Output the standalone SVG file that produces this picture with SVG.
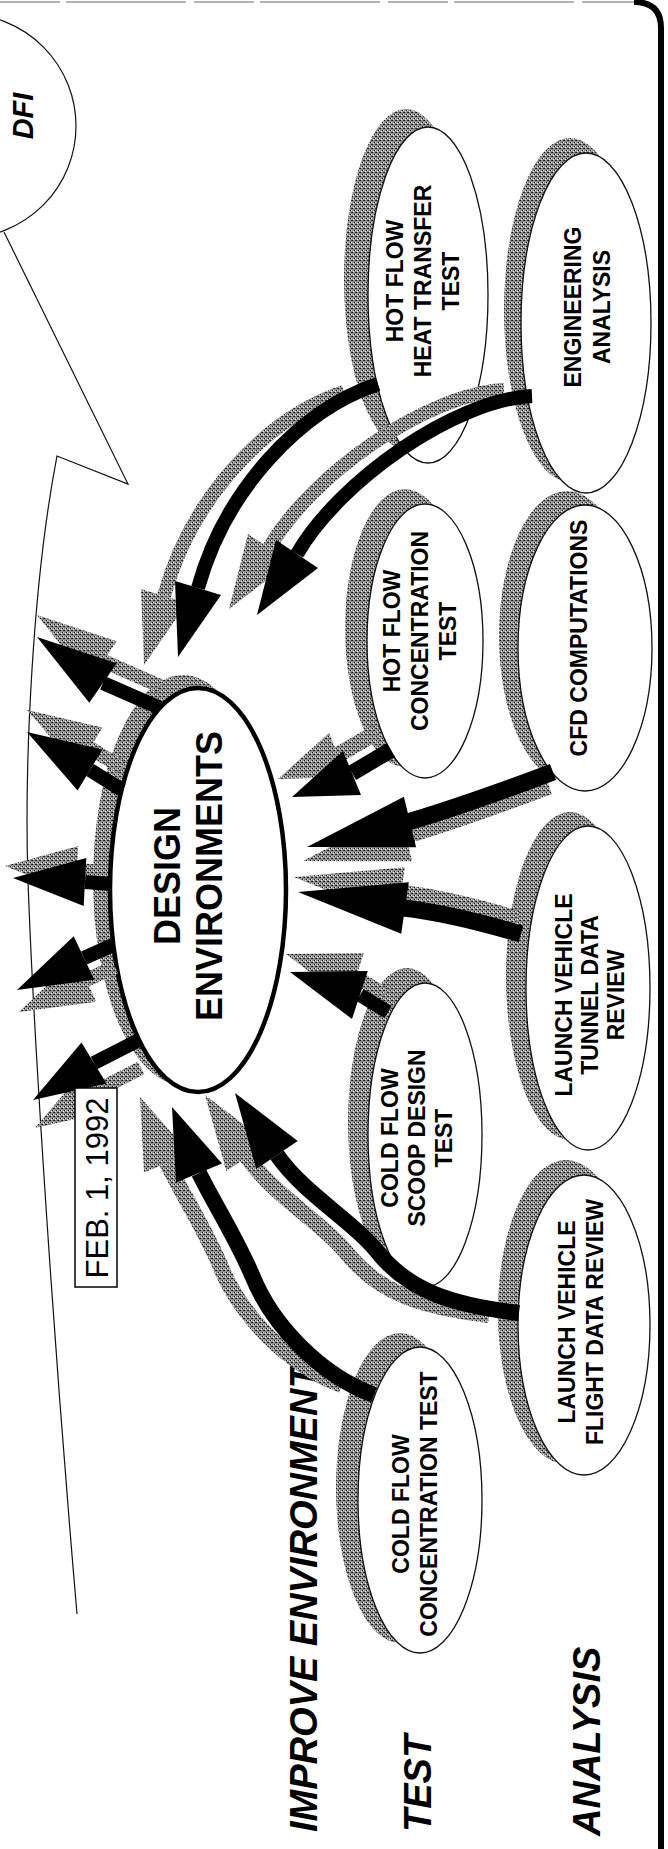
<svg xmlns="http://www.w3.org/2000/svg" xmlns:xlink="http://www.w3.org/1999/xlink" width="668" height="1849" viewBox="0 0 668 1849">
<style>
.lbl{font-family:"Liberation Sans",Arial,sans-serif;font-weight:bold;font-size:23px;fill:#000;text-anchor:middle}
.big{font-family:"Liberation Sans",Arial,sans-serif;font-weight:bold;font-size:36px;fill:#000;text-anchor:middle}
.hdr{font-family:"Liberation Sans",Arial,sans-serif;font-weight:bold;font-style:italic;font-size:38px;fill:#000}
.ell{fill:#fff;stroke:#111;stroke-width:1.3}
.shd{fill:url(#stip);stroke:none}
.b{fill:none;stroke-width:14}
.hd{stroke:none}
.thin{fill:none;stroke:#111;stroke-width:1.2}
</style>
<defs>
<pattern id="stip" width="4" height="4" patternUnits="userSpaceOnUse">
<rect width="4" height="4" fill="#8e8e8e"/>
<rect x="0" y="0" width="1" height="1" fill="#111"/>
<rect x="2" y="2" width="1" height="1" fill="#111"/>
<rect x="3" y="0" width="1" height="1" fill="#333"/>
<rect x="1" y="3" width="1" height="1" fill="#eee"/>
<rect x="3" y="2" width="1" height="1" fill="#ddd"/>
</pattern>
<g id="o1"><path class="b" d="M160,708 L103,683"/><polygon class="hd" points="116.7,663.3 37,637 89.3,702.7"/></g>
<g id="o2"><path class="b" d="M122,790 L90,770"/><polygon class="hd" points="102.4,749.5 27,732 77.6,790.5"/></g>
<g id="o3"><path class="b" d="M111,884 L85,882"/><polygon class="hd" points="86.3,858 13,878 83.7,906"/></g>
<g id="o4"><path class="b" d="M113,945 L84,958"/><polygon class="hd" points="73.7,936.3 17,990 94.3,979.7"/></g>
<g id="o5"><path class="b" d="M139,1040 L94,1063"/><polygon class="hd" points="81.5,1042.5 33,1100 106.5,1083.5"/></g>
<g id="a1"><path class="b" d="M378,384 C300,410 225,490 198,588"/><polygon class="hd" points="175,581 178,657 221,595"/></g>
<g id="a2"><path class="b" d="M532,396 C455,400 340,480 297,554"/><polygon class="hd" points="276,540 257,615 318,568"/></g>
<g id="a3"><path class="b" style="stroke-width:16" d="M391,750 L352,773"/><polygon class="hd" points="343,751 292,797 361,795"/></g>
<g id="a4"><path class="b" style="stroke-width:17" d="M553,772 C500,792 455,808 408,822"/><polygon class="hd" points="403.9,796.7 307,847 416.1,847.3"/></g>
<g id="a5"><path class="b" style="stroke-width:17" d="M521,934 C480,922 440,912 403,908"/><polygon class="hd" points="408.8,882.3 298,892 401.2,933.7"/></g>
<g id="a6"><path class="b" d="M388,1012 L360,995"/><polygon class="hd" points="367.8,971 290,972 352,1019"/></g>
<g id="a7"><path class="b" style="stroke-width:16" d="M519,1313 C450,1305 410,1290 380,1255 C355,1222 305,1195 277,1155"/><polygon class="hd" points="297.7,1141 235,1093 256.3,1169"/></g>
<g id="a8"><path class="b" style="stroke-width:16" d="M374,1395 C320,1375 272,1325 252,1275 C236,1238 215,1205 199,1173"/><polygon class="hd" points="222,1163.5 172,1107 176,1182.5"/></g>
</defs>
<rect width="668" height="1849" fill="#fff"/>

<g id="frame">
<path d="M0,2 H636" fill="none" stroke="#999" stroke-width="1.5" stroke-dasharray="60 6 120 8"/>
<path d="M634,2 Q661,2 661,28 V1849" fill="none" stroke="#000" stroke-width="6"/>
</g>

<g id="dfi">
<circle cx="-36" cy="126" r="112" class="thin"/>
<text class="hdr" style="font-size:29px;text-anchor:middle" transform="translate(33,116) rotate(-90)">DFI</text>
<path class="thin" d="M4,232 L128,484 L57,456 C33,580 24,760 28,880 C32,1000 50,1300 77,1614"/>
</g>

<g id="labels">
<text class="hdr" transform="translate(317,1832) rotate(-90)">IMPROVE ENVIRONMENT</text>
<text class="hdr" transform="translate(431,1832) rotate(-90)">TEST</text>
<text class="hdr" transform="translate(600,1836) rotate(-90)">ANALYSIS</text>
</g>

<g id="node-design">
<ellipse class="shd" cx="183" cy="880" rx="90" ry="205"/>
<ellipse cx="198" cy="890" rx="88" ry="202" fill="#fff" stroke="#000" stroke-width="4.5"/>
<text class="big" transform="translate(180,876) rotate(-90)"><tspan x="0" y="0">DESIGN</tspan><tspan x="0" dy="42">ENVIRONMENTS</tspan></text>
</g>

<g id="node-heat-transfer">
<ellipse class="shd" cx="406" cy="279" rx="62" ry="170"/>
<ellipse class="ell" cx="428" cy="295" rx="60" ry="168"/>
<text class="lbl" transform="translate(403,281) rotate(-90)"><tspan x="0" y="0">HOT FLOW</tspan><tspan x="0" dy="28">HEAT TRANSFER</tspan><tspan x="0" dy="28">TEST</tspan></text>
</g>

<g id="node-engineering">
<ellipse class="shd" cx="570" cy="310" rx="66" ry="172"/>
<ellipse class="ell" cx="586" cy="323" rx="65" ry="170"/>
<text class="lbl" transform="translate(581,307) rotate(-90)"><tspan x="0" y="0">ENGINEERING</tspan><tspan x="0" dy="29">ANALYSIS</tspan></text>
</g>

<g id="node-hot-conc">
<ellipse class="shd" cx="405" cy="628" rx="60" ry="139"/>
<ellipse class="ell" cx="425" cy="641" rx="58" ry="137"/>
<text class="lbl" transform="translate(400,631) rotate(-90)"><tspan x="0" y="0">HOT FLOW</tspan><tspan x="0" dy="28">CONCENTRATION</tspan><tspan x="0" dy="28">TEST</tspan></text>
</g>

<g id="node-cfd">
<ellipse class="shd" cx="567" cy="636" rx="68" ry="145"/>
<ellipse class="ell" cx="585" cy="648" rx="67" ry="143"/>
<text class="lbl" transform="translate(587,638) rotate(-90)">CFD COMPUTATIONS</text>
</g>

<g id="node-tunnel">
<ellipse class="shd" cx="570" cy="976" rx="64" ry="164"/>
<ellipse class="ell" cx="588" cy="988" rx="62" ry="162"/>
<text class="lbl" transform="translate(572,995) rotate(-90)"><tspan x="0" y="0">LAUNCH VEHICLE</tspan><tspan x="0" dy="26">TUNNEL DATA</tspan><tspan x="0" dy="26">REVIEW</tspan></text>
</g>

<g id="node-scoop">
<ellipse class="shd" cx="407" cy="1122" rx="59" ry="154"/>
<ellipse class="ell" cx="425" cy="1135" rx="57" ry="152"/>
<text class="lbl" transform="translate(398,1138) rotate(-90)"><tspan x="0" y="0">COLD FLOW</tspan><tspan x="0" dy="27">SCOOP DESIGN</tspan><tspan x="0" dy="27">TEST</tspan></text>
</g>

<g id="node-flight">
<ellipse class="shd" cx="566" cy="1312" rx="68" ry="152"/>
<ellipse class="ell" cx="584" cy="1325" rx="66" ry="150"/>
<text class="lbl" transform="translate(575,1322) rotate(-90)"><tspan x="0" y="0">LAUNCH VEHICLE</tspan><tspan x="0" dy="28">FLIGHT DATA REVIEW</tspan></text>
</g>

<g id="node-cold-conc">
<ellipse class="shd" cx="400" cy="1488" rx="64" ry="155"/>
<ellipse class="ell" cx="420" cy="1500" rx="62" ry="153"/>
<text class="lbl" transform="translate(409,1504) rotate(-90)"><tspan x="0" y="0">COLD FLOW</tspan><tspan x="0" dy="28">CONCENTRATION TEST</tspan></text>
</g>

<g id="connectors">
<g fill="url(#stip)" stroke="url(#stip)">
<use xlink:href="#o1" transform="translate(0,-22)"/>
<use xlink:href="#o2" transform="translate(0,-22)"/>
<use xlink:href="#o3" transform="translate(-8,-12)"/>
<use xlink:href="#o4" transform="translate(2,22)"/>
<use xlink:href="#o5" transform="translate(2,28)"/>
<use xlink:href="#a1" transform="translate(-34,8)"/>
<use xlink:href="#a2" transform="translate(-28,-6)"/>
<use xlink:href="#a3" transform="translate(-14,-18)"/>
<use xlink:href="#a4" transform="translate(-4,14)"/>
<use xlink:href="#a5" transform="translate(-4,-15)"/>
<use xlink:href="#a6" transform="translate(-4,-18)"/>
<use xlink:href="#a7" transform="translate(-30,2)"/>
<use xlink:href="#a8" transform="translate(-32,-10)"/>
</g>
<g fill="#000" stroke="#000">
<use xlink:href="#o1"/>
<use xlink:href="#o2"/>
<use xlink:href="#o3"/>
<use xlink:href="#o4"/>
<use xlink:href="#o5"/>
<use xlink:href="#a1"/>
<use xlink:href="#a2"/>
<use xlink:href="#a3"/>
<use xlink:href="#a4"/>
<use xlink:href="#a5"/>
<use xlink:href="#a6"/>
<use xlink:href="#a7"/>
<use xlink:href="#a8"/>
</g>
</g>

<g id="date-tag">
<rect x="75" y="1088" width="42" height="199" fill="#fff" stroke="#000" stroke-width="1.5"/>
<text transform="translate(108,1188) rotate(-90)" style="font-family:'Liberation Sans',Arial,sans-serif;font-size:31px;text-anchor:middle">FEB. 1, 1992</text>
</g>
</svg>
